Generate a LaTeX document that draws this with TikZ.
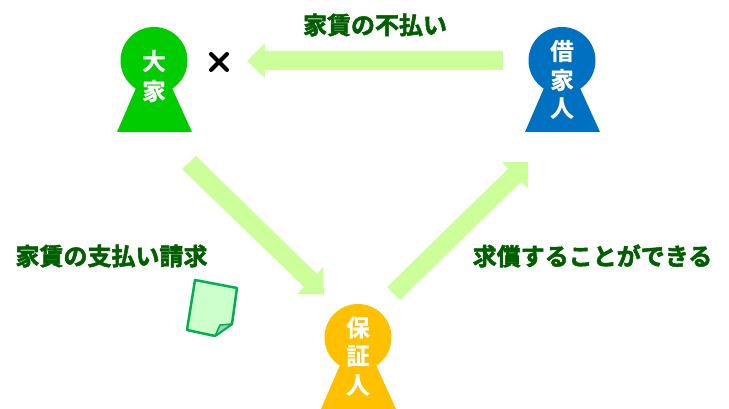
\documentclass[tikz,border=0pt]{standalone}
\usepackage{fontspec}
\setmainfont{Noto Sans CJK JP}[BoldFont={Noto Sans CJK JP Bold}]
\newfontfamily\heavyfont{Noto Sans CJK JP Bold}[FakeBold=2.2]
\newfontfamily\namefont{Noto Sans CJK JP Bold}[FakeBold=0.6]
\definecolor{arrowc}{HTML}{CCFF99}
\definecolor{labelc}{HTML}{006000}
\definecolor{gc}{HTML}{00CC00}
\definecolor{bc}{HTML}{0070C0}
\definecolor{yc}{HTML}{FFC000}
\definecolor{docf}{HTML}{CCFFCC}
\definecolor{docl}{HTML}{00B050}
\definecolor{foldc}{HTML}{8FD6A8}
\tikzset{
 x=1pt,y=-1pt,
 lab/.style={inner sep=0pt,font=\heavyfont\fontsize{24}{24}\selectfont,text=labelc},
 nm/.style={inner sep=0pt,font=\namefont\fontsize{23.6}{24}\selectfont,text=white},
 bigarrow/.style={fill=arrowc,draw=none}
}
\newcommand{\personshape}[3]{%
 \fill[#3] (#1,#2+0.5) circle[radius=33.5];
 \fill[#3] (#1-18,#2+28) -- (#1+18,#2+28) -- (#1+38,#2+72) -- (#1-37,#2+72) -- cycle;}
\begin{document}
\begin{tikzpicture}
\useasboundingbox (0,0) rectangle (729,409);
\fill[white] (0,0) rectangle (729,409);
\personshape{154}{60}{gc}
\personshape{562}{60}{bc}
\personshape{358}{337}{yc}
\node[nm] (a1) at (154,61) {大};
\node[nm] (a2) at (154,91) {家};
\node[nm] (b1) at (562,51) {借};
\node[nm] (b2) at (562,80) {家};
\node[nm] (b3) at (562,108) {人};
\node[nm] (c1) at (358,327.5) {保};
\node[nm] (c2) at (358,356) {証};
\node[nm] (c3) at (358,385) {人};
\fill[bigarrow] (503,51) -- (265,51) -- (265,43) -- (247,61) -- (265,78) -- (265,70) -- (503,70) -- cycle;
\fill[bigarrow] (196,156) -- (317,274) -- (323,267) -- (324,294) -- (297,294) -- (304,287) -- (182,169) -- cycle;
\fill[bigarrow] (387,287) -- (508,169) -- (502,162) -- (528,162) -- (528,188) -- (521,182) -- (400,300) -- cycle;
\node[lab] (t1) at (375,25) {家賃の不払い};
\node[lab] (t2) at (111.5,256) {家賃の支払い請求};
\node[lab] (t3) at (592.5,256) {求償することができる};
\draw[line width=4pt,line cap=round] (211,54) -- (227,70) (227,54) -- (211,70);
\draw[docl,fill=docf,line width=2.5pt,line join=round] (195,280) -- (237,288) -- (232,324) -- (215,336) -- (187,330) -- cycle;
\draw[docl,fill=foldc,line width=1.5pt,line join=round] (215,336) -- (220,325) -- (232,324) -- cycle;
\end{tikzpicture}
\end{document}
